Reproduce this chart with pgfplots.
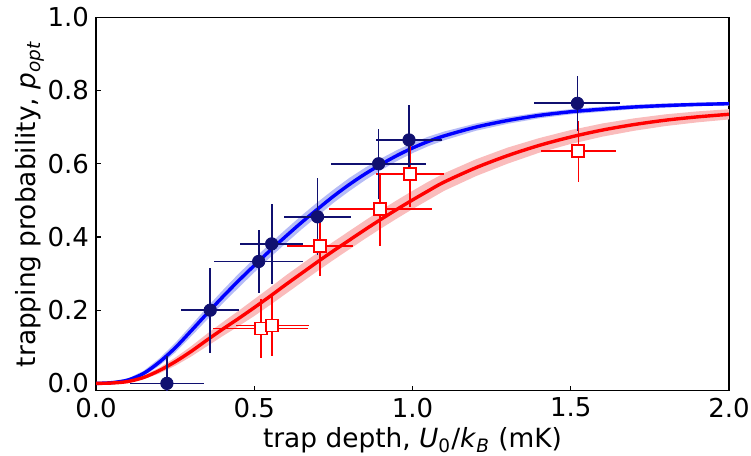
\documentclass[border=0pt]{standalone}
\usepackage{fontspec}
\setmainfont{DejaVu Sans}
\usepackage{pgfplots}
\usepackage{pgfplotstable}
\pgfplotsset{compat=1.18}
\usepgfplotslibrary{fillbetween}
\definecolor{navy}{RGB}{16,16,112}
\definecolor{bandblue}{RGB}{182,188,246}
\definecolor{bandred}{RGB}{250,188,188}

\pgfplotstableread{
x y lo hi
0.00 0.000 0.000 0.000
0.05 0.002 0.000 0.004
0.10 0.009 0.005 0.013
0.15 0.027 0.020 0.034
0.20 0.058 0.048 0.068
0.25 0.097 0.084 0.110
0.30 0.143 0.128 0.158
0.35 0.190 0.173 0.207
0.40 0.236 0.218 0.254
0.45 0.280 0.261 0.299
0.50 0.322 0.303 0.341
0.55 0.363 0.344 0.382
0.60 0.402 0.383 0.421
0.65 0.440 0.421 0.459
0.70 0.476 0.457 0.495
0.75 0.511 0.493 0.529
0.80 0.543 0.525 0.561
0.85 0.572 0.555 0.589
0.90 0.598 0.582 0.614
0.95 0.622 0.607 0.637
1.00 0.643 0.629 0.657
1.05 0.661 0.648 0.674
1.10 0.676 0.664 0.688
1.20 0.700 0.690 0.710
1.30 0.718 0.709 0.727
1.40 0.732 0.724 0.740
1.50 0.742 0.735 0.749
1.60 0.749 0.742 0.756
1.70 0.755 0.749 0.761
1.80 0.759 0.753 0.765
1.90 0.762 0.757 0.767
2.00 0.764 0.759 0.769
}\bluefit

\pgfplotstableread{
x y lo hi
0.00 0.000 0.000 0.000
0.05 0.001 0.000 0.002
0.10 0.005 0.002 0.008
0.15 0.016 0.011 0.021
0.20 0.035 0.027 0.043
0.25 0.059 0.048 0.070
0.30 0.087 0.073 0.101
0.35 0.118 0.101 0.135
0.40 0.148 0.129 0.167
0.45 0.177 0.156 0.198
0.50 0.207 0.184 0.230
0.55 0.238 0.214 0.262
0.60 0.270 0.245 0.295
0.65 0.301 0.276 0.326
0.70 0.332 0.307 0.357
0.75 0.362 0.337 0.387
0.80 0.391 0.366 0.416
0.85 0.420 0.395 0.445
0.90 0.448 0.423 0.473
0.95 0.475 0.450 0.500
1.00 0.501 0.476 0.526
1.05 0.526 0.501 0.551
1.10 0.550 0.526 0.574
1.20 0.589 0.566 0.612
1.30 0.622 0.600 0.644
1.40 0.650 0.630 0.670
1.50 0.673 0.654 0.692
1.60 0.692 0.674 0.710
1.70 0.707 0.690 0.724
1.80 0.719 0.703 0.735
1.90 0.728 0.713 0.743
2.00 0.735 0.721 0.749
}\redfit

\pgfplotstableread{
x y ex ey
0.224 0.000 0.118 0.075
0.361 0.200 0.092 0.116
0.514 0.333 0.141 0.087
0.555 0.381 0.099 0.109
0.700 0.455 0.105 0.105
0.893 0.600 0.150 0.095
0.989 0.665 0.105 0.095
1.521 0.765 0.136 0.075
}\bluedata

\pgfplotstableread{
x y ex ey
0.521 0.150 0.150 0.080
0.557 0.158 0.116 0.084
0.707 0.376 0.105 0.084
0.898 0.476 0.163 0.100
0.991 0.572 0.107 0.090
1.524 0.634 0.118 0.083
}\reddata

\begin{document}
\begin{tikzpicture}
\begin{axis}[
  name=ax,
  scale only axis,
  width=316.5pt, height=186.7pt,
  xmin=0, xmax=2, ymin=-0.02, ymax=1.0,
  xtick={0,0.5,1,1.5,2},
  ytick={0,0.2,0.4,0.6,0.8,1.0},
  xticklabels={0.0,0.5,1.0,1.5,2.0},
  yticklabels={0.0,0.2,0.4,0.6,0.8,1.0},
  tick align=inside,
  tick pos=left,
  major tick length=2.5pt,
  axis line style={black, line width=0.6pt},
  tick style={black, line width=0.6pt},
  /pgf/number format/assume math mode=true,
  tick label style={font=\fontsize{13}{15.6}\selectfont},
  label style={font=\fontsize{13.2}{15.8}\selectfont},
  xlabel={trap depth, \textit{U}\textsubscript{0}/\textit{k}\textsubscript{\textit{B}} (mK)},
  ylabel={trapping probability, \textit{p}\textsubscript{\textit{opt}}},
  xlabel shift=-2pt,
  ylabel shift=-5pt,
  clip=true,
]
% bands
\addplot[draw=none, name path=bu, forget plot] table[x=x, y=hi] {\bluefit};
\addplot[draw=none, name path=bl, forget plot] table[x=x, y=lo] {\bluefit};
\addplot[fill=bandblue, draw=none, forget plot] fill between[of=bu and bl];
\addplot[draw=none, name path=ru, forget plot] table[x=x, y=hi] {\redfit};
\addplot[draw=none, name path=rl, forget plot] table[x=x, y=lo] {\redfit};
\addplot[fill=bandred, draw=none, forget plot] fill between[of=ru and rl];
% fit lines
\addplot[blue, line width=1.7pt, smooth, no marks] table[x=x, y=y] {\bluefit};
\addplot[red, line width=1.7pt, smooth, no marks] table[x=x, y=y] {\redfit};
% red data
\addplot[only marks, mark=square*, mark size=3pt,
  mark options={fill=white, draw=red, line width=0.95pt},
  error bars/.cd, x dir=both, x explicit, y dir=both, y explicit,
  error mark=none, error bar style={red, line width=0.85pt}]
  table[x=x, y=y, x error=ex, y error=ey] {\reddata};
% blue data
\addplot[only marks, mark=*, mark size=3.1pt,
  mark options={fill=navy, draw=navy},
  error bars/.cd, x dir=both, x explicit, y dir=both, y explicit,
  error mark=none, error bar style={navy, line width=0.85pt}]
  table[x=x, y=y, x error=ex, y error=ey] {\bluedata};
\end{axis}
\pgfresetboundingbox
\path[use as bounding box] ([shift={(-48pt,-32.5pt)}]ax.south west) rectangle ([shift={(11pt,8.65pt)}]ax.north east);
\end{tikzpicture}
\end{document}
